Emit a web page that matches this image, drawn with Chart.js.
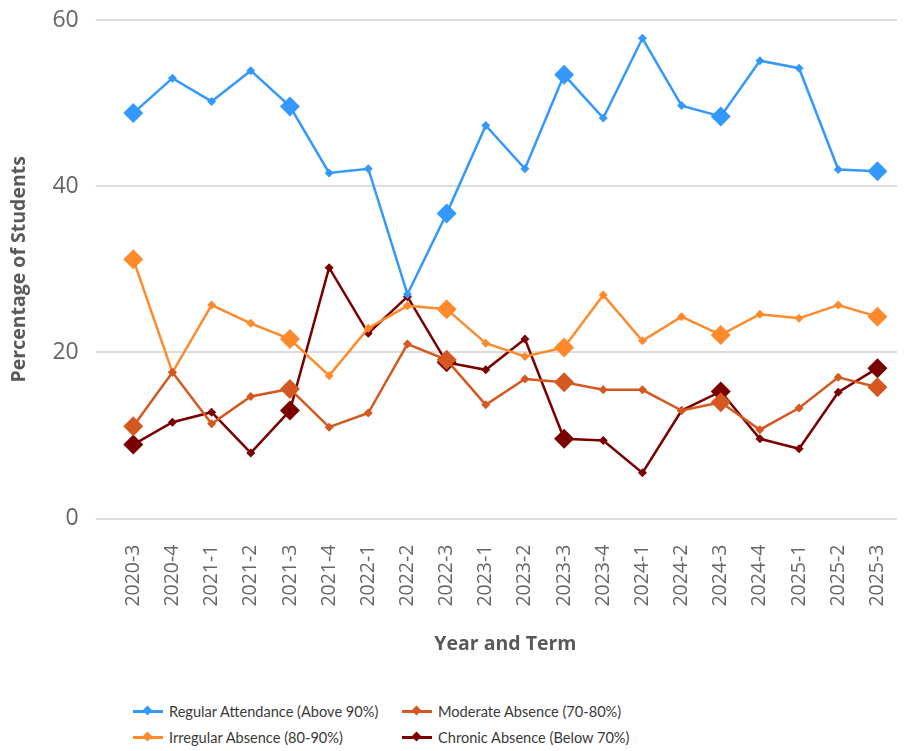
<!DOCTYPE html>
<html>
<head>
<meta charset="utf-8">
<script src="https://cdn.jsdelivr.net/npm/chart.js@4"></script>
<style>
  html, body { margin: 0; padding: 0; background: #fff; }
  body { width: 907px; height: 751px; overflow: hidden; font-family: "Open Sans", sans-serif; }
  #wrap { position: relative; width: 907px; height: 660px; }
  #legend { display: grid; grid-template-columns: 269px 260px; row-gap: 4px; margin-left: 133px; margin-top: 40px; color: #3a3a3a; font-family: Lato, sans-serif; font-size: 14.6px; }
  .item { display: flex; align-items: center; height: 22px; white-space: nowrap; }
  .sw { position: relative; width: 30px; height: 3px; margin-right: 6px; flex: none; }
  .sw i { position: absolute; left: 11px; top: -3px; width: 7px; height: 7px; transform: rotate(45deg); background: inherit; }
</style>
</head>
<body>
<div id="wrap"><canvas id="viz"></canvas></div>
<div id="legend"></div>
<script>
// categories
const terms = ['2020-3','2020-4','2021-1','2021-2','2021-3','2021-4','2022-1','2022-2','2022-3','2023-1',
               '2023-2','2023-3','2023-4','2024-1','2024-2','2024-3','2024-4','2025-1','2025-2','2025-3'];

// series (% of students)
const regular   = [48.8, 53.0, 50.2, 53.9, 49.6, 41.6, 42.1, 27.0, 36.7, 47.3, 42.1, 53.4, 48.2, 57.8, 49.7, 48.4, 55.1, 54.2, 42.0, 41.8];
const moderate  = [11.1, 17.6, 11.4, 14.7, 15.6, 11.0, 12.7, 21.0, 19.1, 13.7, 16.8, 16.4, 15.5, 15.5, 13.0, 14.0, 10.7, 13.3, 17.0, 15.8];
const irregular = [31.2, 17.6, 25.7, 23.5, 21.6, 17.2, 22.9, 25.6, 25.2, 21.1, 19.5, 20.6, 26.9, 21.4, 24.3, 22.1, 24.6, 24.1, 25.7, 24.3];
const chronic   = [ 8.9, 11.6, 12.8,  7.9, 13.0, 30.2, 22.3, 26.7, 18.8, 17.9, 21.6,  9.6,  9.4,  5.5, 13.0, 15.3,  9.6,  8.4, 15.2, 18.1];

const yTicks = [0, 20, 40, 60];

// terms that get the big marker
const highlight = ['2020-3','2021-3','2022-3','2023-3','2024-3','2025-3'];
const radii = terms.map(t => highlight.includes(t) ? 10 : 4.5);

const series = [
  { label: 'Regular Attendance (Above 90%)', data: regular,   color: '#3399ff' },
  { label: 'Moderate Absence (70-80%)',      data: moderate,  color: '#d4581f' },
  { label: 'Irregular Absence (80-90%)',     data: irregular, color: '#ff8a2b' },
  { label: 'Chronic Absence (Below 70%)',    data: chronic,   color: '#7a0000' }
];

const FONT = '"Open Sans", sans-serif';

const chart = new Chart(document.getElementById('viz'), {
  type: 'line',
  data: {
    labels: terms,
    datasets: series.map(s => ({
      label: s.label,
      data: s.data,
      borderColor: s.color,
      backgroundColor: s.color,
      borderWidth: 2.5,
      pointStyle: 'rectRot',
      pointRadius: radii,
      pointHoverRadius: radii,
      pointBorderWidth: 0,
      tension: 0
    }))
  },
  options: {
    responsive: true,
    maintainAspectRatio: false,
    animation: false,
    layout: { padding: { top: 0, right: 0, left: 8, bottom: 0 } },
    plugins: { legend: { display: false }, tooltip: { enabled: false } },
    scales: {
      x: {
        offset: true,
        grid: { display: false },
        border: { display: false },
        ticks: { color: '#666', font: { family: FONT, size: 19.5 }, minRotation: 90, maxRotation: 90, padding: 18 },
        title: { display: true, text: 'Year and Term', color: '#595959', font: { family: FONT, size: 19.5, weight: 'bold' }, padding: { top: 8 } },
        // keep the plot close to the right edge like the original
        afterFit: s => { s.paddingLeft = 0; s.paddingRight = 8; }
      },
      y: {
        min: 0, max: 60,
        afterBuildTicks: axis => { axis.ticks = yTicks.map(v => ({ value: v })); },
        afterFit: s => { s.paddingTop = 20; },
        grid: { color: '#dcdcdc', lineWidth: 2, drawTicks: true, tickLength: 18 },
        border: { display: false },
        ticks: { color: '#666', font: { family: FONT, size: 23, lineHeight: 1 }, padding: 17 },
        title: { display: true, text: 'Percentage of Students', color: '#595959', font: { family: FONT, size: 19.5, weight: 'bold' }, padding: { top: 0, bottom: 4 } }
      }
    }
  }
});

// html legend, two columns like the original
const legendEl = document.getElementById('legend');
legendEl.innerHTML = series.map(s => `
  <div class="item"><span class="sw" style="background:${s.color}"><i></i></span>${s.label}</div>
`).join('');
</script>
</body>
</html>
